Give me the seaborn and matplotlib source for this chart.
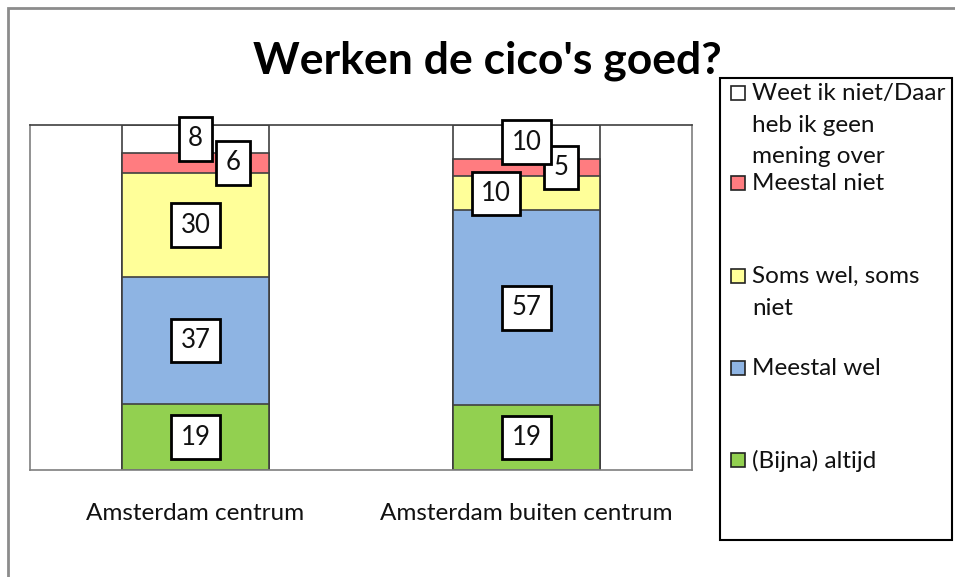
import numpy as np
import pandas as pd
import matplotlib
matplotlib.use('Agg')
import matplotlib.pyplot as plt
from matplotlib.patches import Rectangle
import seaborn as sns

# Data (percentages, 100% stacked)
regions = ['Amsterdam centrum', 'Amsterdam buiten centrum']
answers = ['(Bijna) altijd', 'Meestal wel', 'Soms wel, soms niet', 'Meestal niet',
           'Weet ik niet/Daar heb ik geen mening over']
altijd = [19, 19]
meestal_wel = [37, 57]
soms = [30, 10]
meestal_niet = [6, 5]
weet_niet = [8, 10]

legend_labels = ['Weet ik niet/Daar\nheb ik geen\nmening over', 'Meestal niet',
                 'Soms wel, soms\nniet', 'Meestal wel', '(Bijna) altijd']

colors = ['#92D050', '#8EB4E3', '#FFFF99', '#FF7C80', '#FFFFFF']

sns.set_style('white')
plt.rcParams['font.family'] = ['Lato', 'DejaVu Sans']

df = pd.DataFrame({'Regio': regions, answers[0]: altijd, answers[1]: meestal_wel,
                   answers[2]: soms, answers[3]: meestal_niet, answers[4]: weet_niet})
vals = df[answers].astype(float)
pct = vals.div(vals.sum(axis=1), axis=0) * 100
cum = pct.cumsum(axis=1)

fig = plt.figure(figsize=(9.55, 5.77), dpi=100)
ax = fig.add_axes([0.0314, 0.1854, 0.6932, 0.598])

# stacked bars: draw cumulative totals, tallest first
for i in range(len(answers) - 1, -1, -1):
    sns.barplot(x=df['Regio'], y=cum[answers[i]], order=regions, color=colors[i],
                width=0.446, edgecolor='#404040', linewidth=1.2, saturation=1, ax=ax)

# label offsets (points) to mimic Excel's label nudging: (answer index, bar index)
offsets = {(3, 0): (27, 0), (3, 1): (25, 0), (2, 1): (-22, 0)}
for j in range(len(regions)):
    for i, a in enumerate(answers):
        y = cum[a].iloc[j] - pct[a].iloc[j] / 2
        dx, dy = offsets.get((i, j), (0, 0))
        ax.annotate(str(int(vals[a].iloc[j])), (j, y), xytext=(dx, dy),
                    textcoords='offset points', ha='center', va='center',
                    fontsize=18.5, color='#111111',
                    bbox=dict(boxstyle='square,pad=0.36', fc='white', ec='black', lw=2))

ax.set_xlim(-0.5, 1.5)
ax.set_ylim(0, 100)
ax.set_xlabel('')
ax.set_ylabel('')
ax.set_yticks([])
ax.tick_params(axis='x', length=0, pad=24, labelsize=17.5, labelcolor='#111111')
for s in ax.spines.values():
    s.set_color('#7f7f7f')
    s.set_linewidth(1.2)
ax.spines['top'].set_color('#404040')

fig.suptitle("Werken de cico's goed?", x=0.51, y=0.895, fontsize=32,
             fontweight='bold', va='center', color='black')

# outer chart border (left and top visible)
fig.add_artist(Rectangle((0.0084, -0.05), 1.2, 1.036, transform=fig.transFigure,
                         fill=False, ec='#8c8c8c', lw=2))

# legend drawn by hand, Excel style
fig.add_artist(Rectangle((0.754, 0.0641), 0.243, 0.8007, transform=fig.transFigure,
                         fc='white', ec='black', lw=1.5))
legend_rows = [93, 183, 276, 368, 460]  # pixel y of first line of each entry
leg_colors = colors[::-1]
for lab, c, ypx in zip(legend_labels, leg_colors, legend_rows):
    yf = 1 - ypx / 577
    fig.add_artist(Rectangle((731 / 955, yf - 7 / 577), 14 / 955, 14 / 577,
                             transform=fig.transFigure, fc=c, ec='#222222', lw=1.2))
    fig.text(752 / 955, yf + 10 / 577, lab, ha='left', va='top', fontsize=17.5,
             color='#111111', linespacing=1.62)

fig.savefig('out.png', dpi=100)
